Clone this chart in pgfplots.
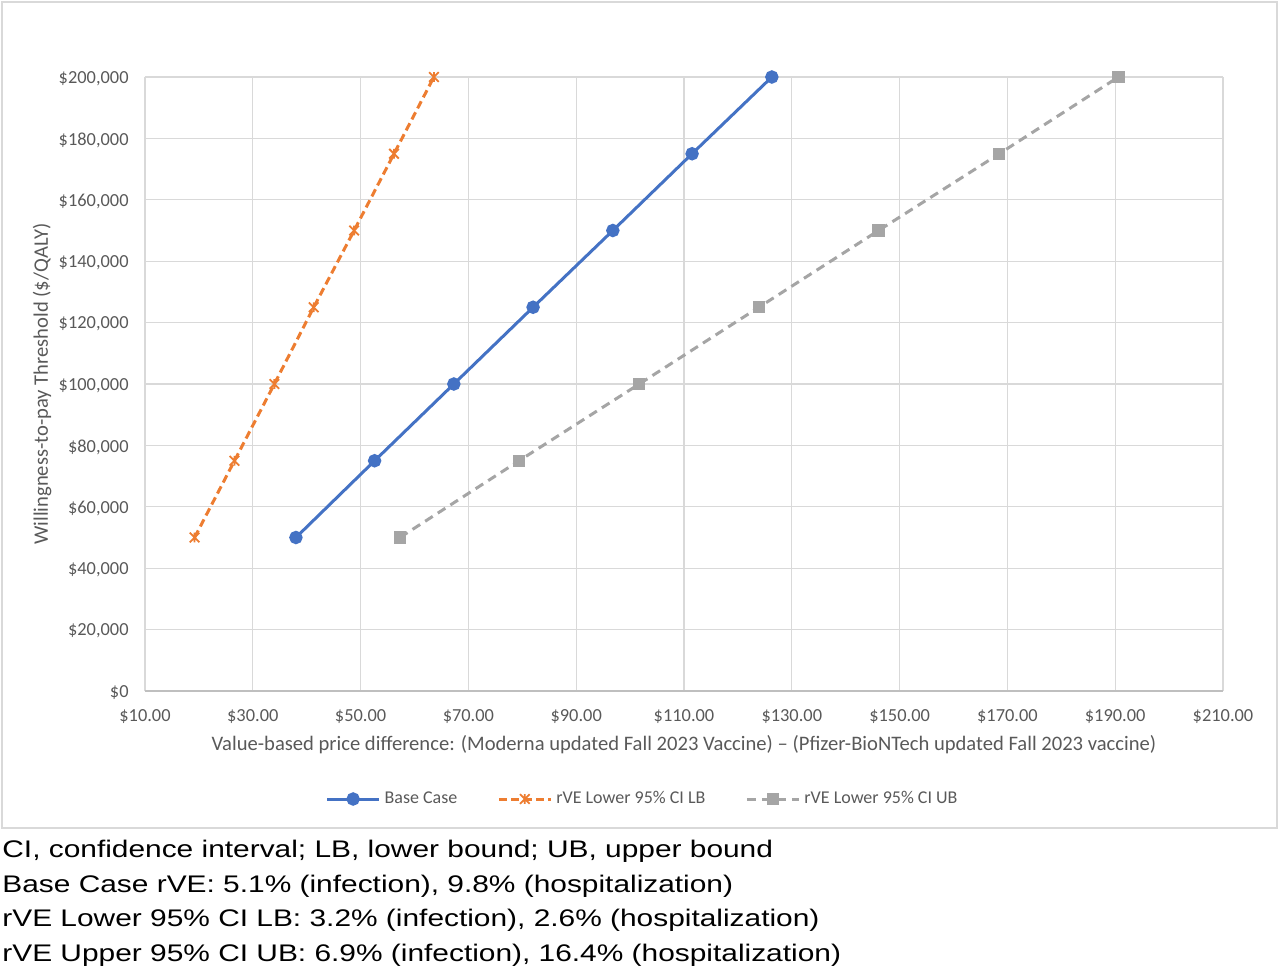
\documentclass[border=0pt]{standalone}
\usepackage{pgfplots}
\pgfplotsset{compat=1.18}
\usepackage{fontspec}
\setmainfont{Carlito}
\newfontfamily\arial[FakeStretch=1.245]{Liberation Sans}

\definecolor{txtgray}{HTML}{595959}
\definecolor{gridgray}{HTML}{D9D9D9}
\definecolor{axgray}{HTML}{BFBFBF}
\definecolor{xlblue}{HTML}{4472C4}
\definecolor{xlorange}{HTML}{ED7D31}
\definecolor{xlgray}{HTML}{A5A5A5}

% Excel-style star marker: an x with a vertical stroke
\pgfdeclareplotmark{xlstar}{%
  \pgfpathmoveto{\pgfqpoint{-\pgfplotmarksize}{-\pgfplotmarksize}}%
  \pgfpathlineto{\pgfqpoint{\pgfplotmarksize}{\pgfplotmarksize}}%
  \pgfpathmoveto{\pgfqpoint{-\pgfplotmarksize}{\pgfplotmarksize}}%
  \pgfpathlineto{\pgfqpoint{\pgfplotmarksize}{-\pgfplotmarksize}}%
  \pgfpathmoveto{\pgfqpoint{0pt}{-\pgfplotmarksize}}%
  \pgfpathlineto{\pgfqpoint{0pt}{\pgfplotmarksize}}%
  \pgfusepathqstroke}

\begin{document}
\begin{tikzpicture}
  \useasboundingbox (-72.5pt,-139.5pt) rectangle (567.5pt,345.5pt);
  \draw[gridgray, line width=0.6pt] (-71.5pt,-68.5pt) rectangle (566pt,344.5pt);
  \begin{axis}[
      at={(0,0)}, anchor=south west,
      scale only axis,
      width=539pt, height=307pt,
      xmin=10, xmax=210, ymin=0, ymax=200000,
      xtick={10,30,...,210},
      ytick={0,20000,...,200000},
      scaled y ticks=false,
      grid=major,
      major grid style={gridgray, line width=0.6pt},
      axis line style={draw=none},
      major tick length=0pt,
      /pgf/number format/assume math mode=true,
      tick label style={font=\fontsize{9.2}{10}\selectfont, text=txtgray, inner sep=0pt},
      xticklabel={\$\pgfmathprintnumber[fixed,fixed zerofill,precision=2]{\tick}},
      yticklabel={\$\pgfmathprintnumber[fixed,precision=0,1000 sep={,}]{\tick}},
      xticklabel style={anchor=center, yshift=-13pt},
      yticklabel style={anchor=east, xshift=-8pt, yshift=-0.8pt},
      xlabel={Value-based price difference: (Moderna updated Fall 2023 Vaccine) -- (Pfizer-BioNTech updated Fall 2023 vaccine)},
      ylabel={Willingness-to-pay Threshold (\$/QALY)},
      label style={font=\fontsize{10.3}{12}\selectfont, text=txtgray},
      xlabel style={at={(axis description cs:0.5,-0.0879)}, anchor=center},
      ylabel style={at={(axis description cs:-0.0955,0.5)}, anchor=center},
      legend columns=3,
      legend style={at={(axis description cs:0.4625,-0.1759)}, anchor=center,
        draw=none, fill=none, font=\fontsize{9}{10}\selectfont, text=txtgray,
        /tikz/every even column/.append style={column sep=18pt},
        inner sep=0pt, cells={anchor=west}},
      legend image code/.code={%
        \draw[mark repeat=2, mark phase=2, #1] plot coordinates {(0pt,0pt) (13pt,0pt) (26pt,0pt)};},
      clip=false,
    ]
    \draw[axgray, line width=0.7pt] (rel axis cs:0,0) -- (rel axis cs:1,0);

    \addplot[xlblue, line width=1.5pt, mark=*, mark size=2.6pt,
      mark options={solid, fill=xlblue}] coordinates {
      (38.0,50000) (52.6,75000) (67.3,100000) (82.0,125000)
      (96.8,150000) (111.5,175000) (126.3,200000)
    };
    \addlegendentry{Base Case}

    \addplot[xlorange, line width=1.5pt, dash pattern=on 4pt off 2.2pt,
      mark=xlstar, mark size=2.4pt, mark options={solid, line width=0.9pt}] coordinates {
      (19.2,50000) (26.6,75000) (34.0,100000) (41.3,125000)
      (48.8,150000) (56.2,175000) (63.6,200000)
    };
    \addlegendentry{rVE Lower 95\% CI LB}

    \addplot[xlgray, line width=1.5pt, dash pattern=on 4.5pt off 3pt,
      mark=square*, mark size=2.3pt, mark options={solid, fill=xlgray}] coordinates {
      (57.3,50000) (79.4,75000) (101.7,100000) (123.9,125000)
      (146.1,150000) (168.5,175000) (190.6,200000)
    };
    \addlegendentry{rVE Lower 95\% CI UB}
  \end{axis}

  \begin{scope}[every node/.style={anchor=base west, inner sep=0pt,
      font=\arial\fontsize{12}{14}\selectfont, text=black}]
    \node at (-71.5pt,-83pt) {CI, confidence interval; LB, lower bound; UB, upper bound};
    \node at (-71.5pt,-100.5pt) {Base Case rVE: 5.1\% (infection), 9.8\% (hospitalization)};
    \node at (-71.5pt,-117.5pt) {rVE Lower 95\% CI LB: 3.2\% (infection), 2.6\% (hospitalization)};
    \node at (-71.5pt,-135pt) {rVE Upper 95\% CI UB: 6.9\% (infection), 16.4\% (hospitalization)};
  \end{scope}
\end{tikzpicture}
\end{document}
